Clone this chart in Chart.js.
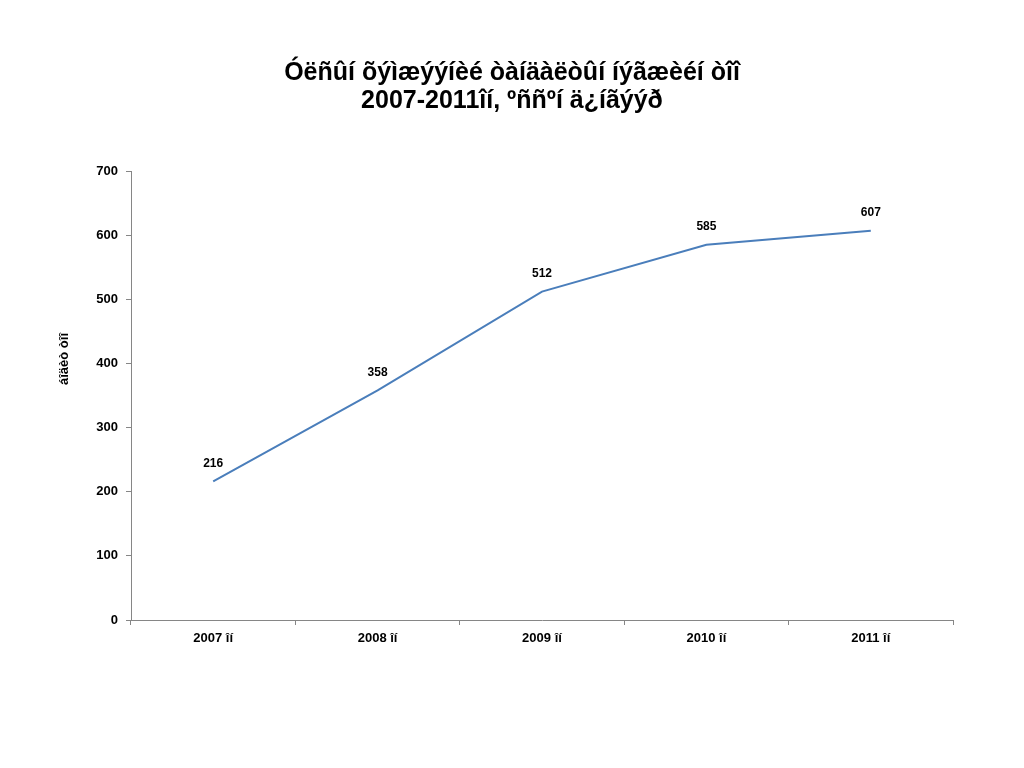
<!DOCTYPE html>
<html>
<head>
<meta charset="utf-8">
<script src="https://cdn.jsdelivr.net/npm/chart.js@4"></script>
<style>
  html, body { margin: 0; padding: 0; background: #ffffff; }
  canvas { display: block; }
</style>
</head>
<body>
<canvas id="c" width="1024" height="768"></canvas>
<script>
const categories = ['2007 îí', '2008 îí', '2009 îí', '2010 îí', '2011 îí'];
const values = [216, 358, 512, 585, 607];
const titleLines = ['Óëñûí õýìæýýíèé òàíäàëòûí íýãæèéí òîî', '2007-2011îí, ºññºí ä¿íãýýð'];
const yAxisTitle = 'áîäèò òîî';

const FONT = "'Liberation Sans', Arial, sans-serif";

const dataLabels = {
  id: 'dataLabels',
  afterDatasetsDraw(chart) {
    const ctx = chart.ctx;
    const meta = chart.getDatasetMeta(0);
    ctx.save();
    ctx.font = 'bold 12px ' + FONT;
    ctx.fillStyle = '#000000';
    ctx.textAlign = 'center';
    ctx.textBaseline = 'middle';
    meta.data.forEach((pt, i) => {
      ctx.fillText(String(values[i]), pt.x, pt.y - 18);
    });
    ctx.restore();
  }
};

const yTitle = {
  id: 'yTitle',
  afterDraw(chart) {
    const ctx = chart.ctx;
    ctx.save();
    ctx.translate(64, 359);
    ctx.rotate(-Math.PI / 2);
    ctx.font = 'bold 13px ' + FONT;
    ctx.fillStyle = '#000000';
    ctx.textAlign = 'center';
    ctx.textBaseline = 'middle';
    ctx.fillText(yAxisTitle, 0, 0);
    ctx.restore();
  }
};

new Chart(document.getElementById('c'), {
  type: 'line',
  data: {
    labels: categories,
    datasets: [{
      data: values,
      borderColor: '#4a7ebb',
      borderWidth: 2,
      pointRadius: 0,
      tension: 0,
      fill: false
    }]
  },
  options: {
    responsive: false,
    animation: false,
    layout: { padding: 0 },
    plugins: {
      legend: { display: false },
      tooltip: { enabled: false },
      title: {
        display: true,
        text: titleLines,
        color: '#000000',
        font: { family: FONT, size: 25, weight: 'bold', lineHeight: 1.12 },
        padding: { top: 59, bottom: 56 }
      }
    },
    scales: {
      x: {
        offset: true,
        grid: { display: true, drawOnChartArea: false, drawTicks: true, tickLength: 5, color: '#868686', offset: true },
        border: { display: true, color: '#868686', width: 1 },
        ticks: { color: '#000000', font: { family: FONT, size: 13, weight: 'bold' }, padding: 6, maxRotation: 0 },
        afterFit(scale) { scale.height = 148; }
      },
      y: {
        min: 0,
        max: 700,
        ticks: { stepSize: 100, color: '#000000', font: { family: FONT, size: 13, weight: 'bold' }, padding: 8 },
        grid: { display: true, drawOnChartArea: false, drawTicks: true, tickLength: 5, color: '#868686' },
        border: { display: true, color: '#868686', width: 1 },
        afterFit(scale) { scale.width = 131; }
      },
      yRight: {
        position: 'right',
        min: 0,
        max: 700,
        ticks: { display: false },
        grid: { display: false },
        border: { display: false },
        afterFit(scale) { scale.width = 71; }
      }
    }
  },
  plugins: [dataLabels, yTitle]
});
</script>
</body>
</html>
